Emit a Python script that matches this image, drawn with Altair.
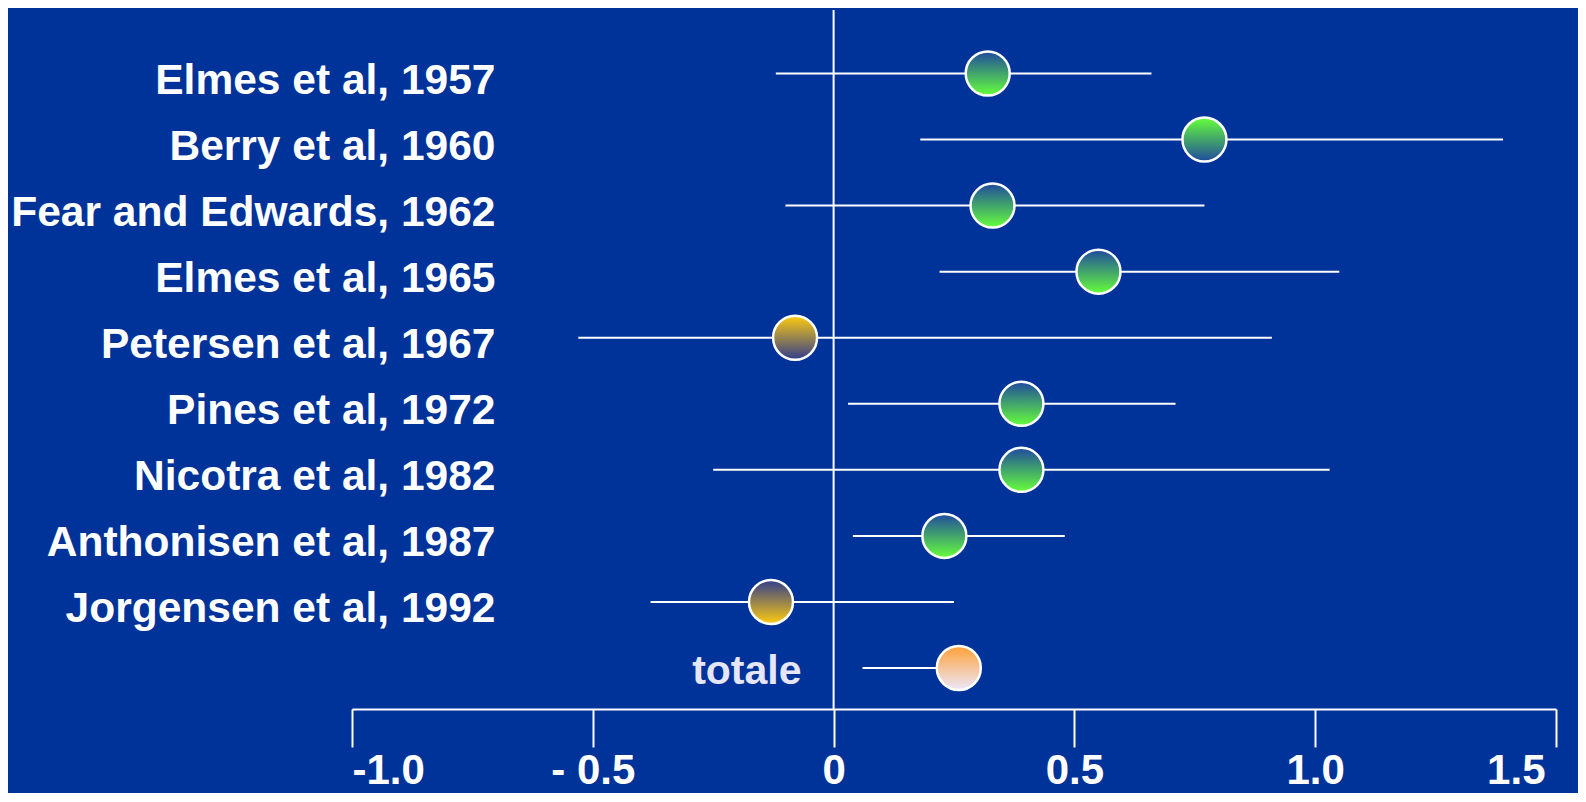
import altair as alt
import pandas as pd

# ---- data ----
studies = [
    "Elmes et al, 1957",
    "Berry et al, 1960",
    "Fear and Edwards, 1962",
    "Elmes et al, 1965",
    "Petersen et al, 1967",
    "Pines et al, 1972",
    "Nicotra et al, 1982",
    "Anthonisen et al, 1987",
    "Jorgensen et al, 1992",
    "totale",
]
effect = [0.32, 0.77, 0.33, 0.55, -0.08, 0.39, 0.39, 0.23, -0.13, 0.26]
lower = [-0.12, 0.18, -0.10, 0.22, -0.53, 0.03, -0.25, 0.04, -0.38, 0.06]
upper = [0.66, 1.39, 0.77, 1.05, 0.91, 0.71, 1.03, 0.48, 0.25, 0.27]

tick_values = [-1.0, -0.5, 0.0, 0.5, 1.0, 1.5]
tick_labels = ["-1.0", "- 0.5", "0", "0.5", "1.0", "1.5"]

# ---- styles ----
marker_style = ["blue_green", "green_blue", "blue_green", "blue_green", "gold_blue",
                "blue_green", "blue_green", "blue_green", "blue_gold", "peach"]
gradients = {
    "blue_green": ("#1f4a9e", "#66ff3a"),
    "green_blue": ("#66ff3a", "#1f4a9e"),
    "gold_blue": ("#ffcc10", "#303c8c"),
    "blue_gold": ("#303c8c", "#ffcc10"),
    "peach": ("#ffa038", "#ebe8fb"),
}
BG = "#003399"
FONT = "Liberation Sans"

df = pd.DataFrame({
    "study": studies,
    "effect": effect,
    "lower": lower,
    "upper": upper,
    "style": marker_style,
})

label_expr = " : ".join(
    f"datum.value == {v} ? '{t}'" for v, t in zip(tick_values, tick_labels)
) + " : ''"

x_axis = alt.Axis(
    values=tick_values,
    labelExpr=label_expr,
    grid=False,
    domainColor="white",
    domainWidth=2,
    tickColor="white",
    tickWidth=2,
    tickSize=38,
    labelColor="white",
    labelFont=FONT,
    labelFontSize=42,
    labelFontWeight="bold",
    labelPadding=3,
    labelBaseline="top",
    labelOffset={"condition": {"test": "datum.value == 1.5", "value": -11}, "value": 0},
    title=None,
)

y_axis = alt.Axis(
    domain=False,
    ticks=False,
    tickSize=0,
    grid=False,
    labelColor="white",
    labelFont=FONT,
    labelFontSize=42.5,
    labelFontWeight="bold",
    labelPadding=-143,
    labelOffset=7,
    labelLimit=0,
    labelExpr="datum.value == 'totale' ? '' : datum.value",
    title=None,
)

x_scale = alt.Scale(domain=[-1.0, 1.5], nice=False, zero=False)
y_scale = alt.Scale(type="point", domain=studies, range=[63.5, 658], padding=0)

base = alt.Chart(df)

ci = base.mark_rule(color="white", strokeWidth=2).encode(
    x=alt.X("lower:Q", scale=x_scale, axis=x_axis),
    x2="upper:Q",
    y=alt.Y("study:N", scale=y_scale, axis=y_axis, sort=studies),
)

zero_line = alt.Chart(pd.DataFrame({"ref": [0.0]})).mark_rule(
    color="white", strokeWidth=2
).encode(x=alt.X("ref:Q", scale=x_scale))

point_layers = []
for key, (c_top, c_bottom) in gradients.items():
    grad = alt.LinearGradient(
        gradient="linear",
        x1=0, y1=0, x2=0, y2=1,
        stops=[alt.GradientStop(offset=0, color=c_top),
               alt.GradientStop(offset=1, color=c_bottom)],
    )
    point_layers.append(
        base.transform_filter(alt.datum.style == key)
        .mark_point(shape="circle", filled=True, fill=grad, fillOpacity=1,
                    stroke="white", strokeWidth=2.5, strokeOpacity=1, size=1936)
        .encode(
            x=alt.X("effect:Q", scale=x_scale),
            y=alt.Y("study:N", scale=y_scale, sort=studies),
        )
    )

totale_label = base.transform_filter(alt.datum.study == "totale").mark_text(
    align="right", baseline="alphabetic", dx=-61, dy=16,
    font=FONT, fontSize=41, fontWeight="bold", color="#e6e6fa",
).encode(
    x=alt.X("lower:Q", scale=x_scale),
    y=alt.Y("study:N", scale=y_scale, sort=studies),
    text="study:N",
)

chart = alt.layer(zero_line, ci, *point_layers, totale_label).properties(
    width=1204,
    height=699,
    autosize=alt.AutoSizeParams(type="none"),
    padding={"left": 344, "top": 2, "right": 22, "bottom": 84},
).configure(background=BG).configure_view(strokeOpacity=0)

chart.save("out.html", embed_options={"renderer": "svg", "actions": False})
